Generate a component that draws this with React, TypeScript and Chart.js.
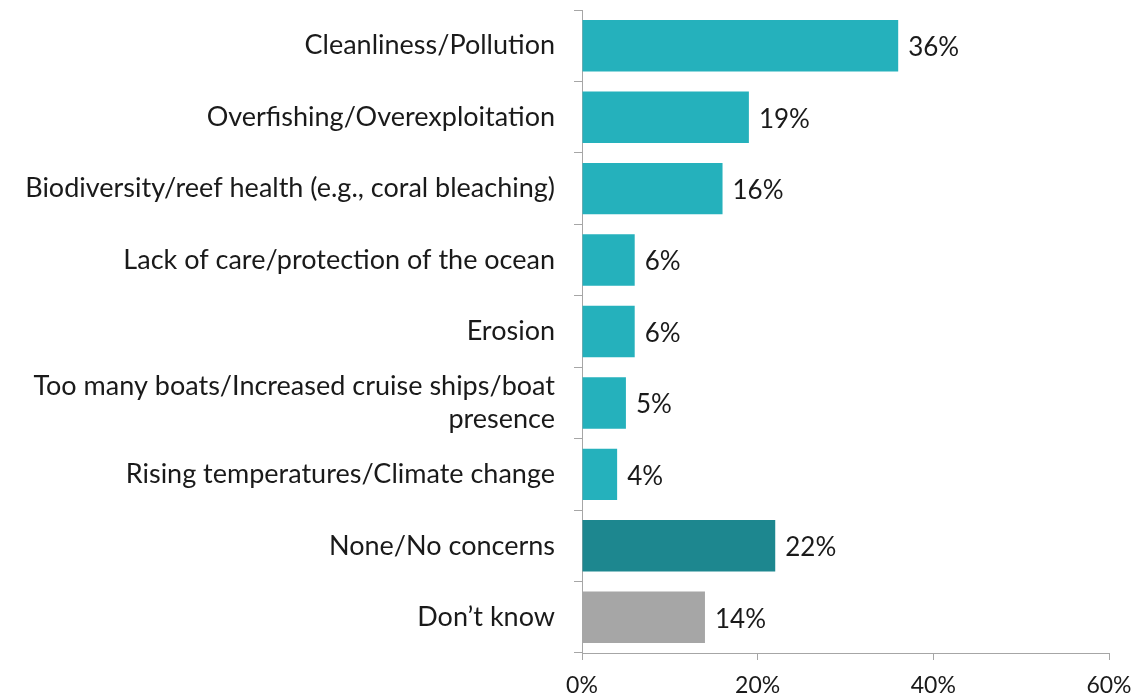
import React, { useEffect, useRef } from "react";
import { Chart, registerables } from "chart.js";

Chart.register(...registerables);

const categories: (string | string[])[] = [
  "Cleanliness/Pollution",
  "Overfishing/Overexploitation",
  "Biodiversity/reef health (e.g., coral bleaching)",
  "Lack of care/protection of the ocean",
  "Erosion",
  ["Too many boats/Increased cruise ships/boat", "presence"],
  "Rising temperatures/Climate change",
  "None/No concerns",
  "Don\u2019t know",
];
const values: number[] = [36, 19, 16, 6, 6, 5, 4, 22, 14];
const barColors: string[] = [
  "#25B1BC", "#25B1BC", "#25B1BC", "#25B1BC", "#25B1BC", "#25B1BC", "#25B1BC",
  "#1D878F", "#A6A6A6",
];
const xTicks: number[] = [0, 20, 40, 60];

const FONT = "Lato, 'Open Sans', sans-serif";

const valueLabels = {
  id: "valueLabels",
  afterDatasetsDraw(chart: any) {
    const ctx = chart.ctx;
    const meta = chart.getDatasetMeta(0);
    ctx.save();
    ctx.font = `26px ${FONT}`;
    ctx.fillStyle = "#1a1a1a";
    ctx.textAlign = "left";
    ctx.textBaseline = "middle";
    meta.data.forEach((bar: any, i: number) => {
      ctx.fillText(`${values[i]}%`, bar.x + 10, bar.y + 2);
    });
    ctx.restore();
  },
};

export default function App() {
  const ref = useRef<HTMLCanvasElement>(null);
  useEffect(() => {
    if (!ref.current) return;
    const chart = new Chart(ref.current, {
      type: "bar",
      data: {
        labels: categories,
        datasets: [
          {
            data: values,
            backgroundColor: barColors,
            categoryPercentage: 1,
            barPercentage: 0.72,
          },
        ],
      },
      options: {
        indexAxis: "y",
        animation: false,
        responsive: false,
        maintainAspectRatio: false,
        layout: { padding: { top: 10, right: 27, left: 0, bottom: 0 } },
        plugins: { legend: { display: false }, tooltip: { enabled: false } },
        scales: {
          x: {
            min: 0,
            max: 60,
            afterBuildTicks: (s: any) => {
              s.ticks = xTicks.map((v) => ({ value: v }));
            },
            afterFit: (s: any) => {
              s.height = 46;
              s.paddingLeft = 0;
              s.paddingRight = 0;
            },
            grid: {
              drawOnChartArea: false,
              drawTicks: true,
              tickLength: 7,
              color: "#A6A6A6",
            },
            border: { color: "#A6A6A6", width: 1 },
            ticks: {
              padding: 12,
              color: "#1a1a1a",
              font: { family: FONT, size: 23 },
              callback: (v: any) => `${v}%`,
            },
          },
          y: {
            afterFit: (s: any) => {
              s.width = 582;
              s.paddingTop = 0;
              s.paddingBottom = 0;
            },
            grid: {
              offset: true,
              drawOnChartArea: false,
              drawTicks: true,
              tickLength: 8,
              color: "#A6A6A6",
            },
            border: { color: "#A6A6A6", width: 1 },
            ticks: {
              padding: 19,
              color: "#1a1a1a",
              font: { family: FONT, size: 27, lineHeight: 1.2 },
            },
          },
        },
      },
      plugins: [valueLabels],
    });
    return () => chart.destroy();
  }, []);
  return (
    <div style={{ position: "fixed", left: 0, top: 0, width: 1136, height: 699, background: "#fff" }}>
      <canvas ref={ref} width={1136} height={699} />
    </div>
  );
}
